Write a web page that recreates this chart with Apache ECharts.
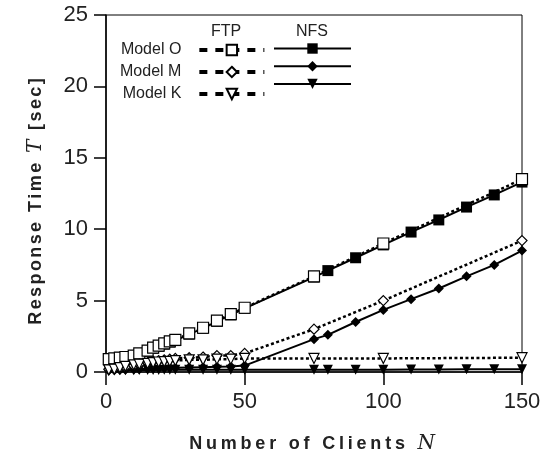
<!DOCTYPE html>
<html>
<head>
<meta charset="utf-8">
<script src="https://cdn.jsdelivr.net/npm/echarts@6/dist/echarts.min.js"></script>
<style>
  html, body { margin: 0; padding: 0; background: #fff; }
  #chart { width: 552px; height: 456px; }
</style>
</head>
<body>
<div id="chart"></div>
<script>
// Client counts measured for each protocol
const lowClients = [1, 3, 5, 7, 10, 12, 15, 17, 19, 21, 23, 25, 30, 35, 40, 45, 50];
const ftpClients = lowClients.concat([75, 100, 150]);
const nfsClients = lowClients.concat([75, 80, 90, 100, 110, 120, 130, 140, 150]);

// Response time [sec], FTP
const ftpModelO = [0.9, 0.95, 1.0, 1.05, 1.15, 1.3, 1.5, 1.7, 1.85, 2.0, 2.15, 2.25, 2.7, 3.1, 3.6, 4.05, 4.5, 6.7, 9.0, 13.5];
const ftpModelM = [0.2, 0.25, 0.3, 0.35, 0.45, 0.55, 0.65, 0.75, 0.8, 0.85, 0.9, 0.95, 1.0, 1.05, 1.15, 1.15, 1.3, 3.0, 5.0, 9.2];
const ftpModelK = [0.15, 0.2, 0.3, 0.4, 0.5, 0.55, 0.6, 0.65, 0.7, 0.72, 0.75, 0.8, 0.85, 0.85, 0.9, 0.9, 0.95, 0.95, 0.95, 1.0];

// Response time [sec], NFS
const nfsModelO = [0.85, 0.9, 0.95, 1.0, 1.1, 1.25, 1.45, 1.65, 1.8, 1.95, 2.1, 2.2, 2.65, 3.05, 3.55, 4.0, 4.45, 6.65, 7.1, 8.0, 8.9, 9.8, 10.65, 11.55, 12.4, 13.3];
const nfsModelM = [0.1, 0.12, 0.14, 0.16, 0.18, 0.2, 0.22, 0.24, 0.26, 0.28, 0.3, 0.3, 0.32, 0.34, 0.36, 0.38, 0.45, 2.3, 2.6, 3.5, 4.35, 5.1, 5.85, 6.7, 7.5, 8.5];
const nfsModelK = [0.12, 0.12, 0.13, 0.13, 0.13, 0.14, 0.14, 0.14, 0.14, 0.15, 0.15, 0.15, 0.15, 0.15, 0.15, 0.15, 0.15, 0.15, 0.15, 0.16, 0.16, 0.17, 0.18, 0.19, 0.2, 0.2];

const xTicks = [0, 50, 100, 150];
const yTicks = [0, 5, 10, 15, 20, 25];

const SANS = '"Liberation Sans", Arial, Helvetica, sans-serif';
const SERIF = '"DejaVu Serif", "Liberation Serif", serif';
const INK = '#000';
const TEXT = '#222';

function pairs(xs, ys) { return xs.map((x, i) => [x, ys[i]]); }

// Wrap every character in a rich-text token so the title gets letter spacing.
function spaced(str) {
  return str.split('').map(c => '{s|' + c + '}').join('');
}
function titleStyle(gap, tail) {
  return {
    fontFamily: SANS, fontWeight: 'bold', fontSize: 18, color: TEXT,
    rich: {
      s: { fontFamily: SANS, fontWeight: 'bold', fontSize: 18, color: TEXT, padding: [0, gap, 0, 0] },
      i: { fontFamily: SERIF, fontStyle: 'italic', fontWeight: 'normal', fontSize: 20, color: TEXT, padding: [0, gap, 0, 0] },
      e: { fontFamily: SANS, fontWeight: 'bold', fontSize: 18, color: TEXT, padding: [0, tail, 0, 0] }
    }
  };
}

function nfsSeries(name, ys, symbol, size, rotate) {
  return {
    name, type: 'line', data: pairs(nfsClients, ys),
    symbol, symbolSize: size, symbolRotate: rotate || 0,
    lineStyle: { color: INK, width: 2, type: 'solid' },
    itemStyle: { color: INK, borderColor: INK, borderWidth: 0 },
    emphasis: { disabled: true }, animation: false
  };
}
function ftpSeries(name, ys, symbol, size, rotate) {
  return {
    name, type: 'line', data: pairs(ftpClients, ys),
    symbol, symbolSize: size, symbolRotate: rotate || 0,
    lineStyle: { color: INK, width: 2.5, type: [3, 2.5] },
    itemStyle: { color: '#fff', borderColor: INK, borderWidth: 1.2 },
    emphasis: { disabled: true }, animation: false
  };
}

const chart = echarts.init(document.getElementById('chart'), null, { renderer: 'canvas' });
chart.setOption({
  animation: false,
  grid: {
    left: 106, right: 30, top: 15, bottom: 84,
    outerBoundsMode: 'none',
    show: true, borderColor: INK, borderWidth: 1, backgroundColor: 'transparent'
  },
  xAxis: {
    type: 'value', min: xTicks[0], max: xTicks[xTicks.length - 1], interval: 50,
    name: spaced('Number of Clients ') + '{i|N}', nameLocation: 'middle', nameGap: 62,
    nameTextStyle: titleStyle(3.8, 3.8),
    axisLine: { lineStyle: { color: INK, width: 1.5 } },
    axisTick: { length: 13, lineStyle: { color: INK, width: 1.5 } },
    axisLabel: { fontFamily: SANS, fontSize: 22, color: TEXT, margin: 19 },
    splitLine: { show: false }
  },
  yAxis: {
    type: 'value', min: yTicks[0], max: yTicks[yTicks.length - 1], interval: 5,
    name: spaced('Response Time ') + '{i|T}' + spaced(' [sec') + '{e|]}', nameLocation: 'middle', nameGap: 60,
    nameTextStyle: titleStyle(2.4, 16),
    axisLine: { lineStyle: { color: INK, width: 1.5 } },
    axisTick: { length: 12, lineStyle: { color: INK, width: 1.5 } },
    axisLabel: { fontFamily: SANS, fontSize: 22, color: TEXT, margin: 18 },
    splitLine: { show: false }
  },
  legend: [
    {
      orient: 'vertical', left: 115, top: 37, align: 'right',
      itemWidth: 65, itemHeight: 13, itemGap: 6, selectedMode: false,
      formatter: n => n.replace('FTP ', ''),
      textStyle: { fontFamily: SANS, fontSize: 16, color: TEXT, padding: [0, 13, 0, 0] },
      data: [
        { name: 'FTP Model O', lineStyle: { type: [8, 8], width: 4 } },
        { name: 'FTP Model M', lineStyle: { type: [8, 8], width: 4 } },
        { name: 'FTP Model K', lineStyle: { type: [8, 8], width: 4 } }
      ]
    },
    {
      orient: 'vertical', left: 268, top: 37, align: 'left',
      itemWidth: 77, itemHeight: 13, itemGap: 6, selectedMode: false,
      formatter: () => '',
      textStyle: { fontFamily: SANS, fontSize: 16, color: TEXT },
      data: ['NFS Model O', 'NFS Model M', 'NFS Model K']
    }
  ],
  graphic: [
    { type: 'text', left: 211, top: 24, style: { text: 'FTP', font: '16px ' + SANS, fill: TEXT } },
    { type: 'text', left: 296, top: 24, style: { text: 'NFS', font: '16px ' + SANS, fill: TEXT } }
  ],
  series: [
    nfsSeries('NFS Model O', nfsModelO, 'rect', 11),
    nfsSeries('NFS Model M', nfsModelM, 'diamond', 10),
    nfsSeries('NFS Model K', nfsModelK, 'triangle', 10, 180),
    ftpSeries('FTP Model O', ftpModelO, 'rect', 11),
    ftpSeries('FTP Model M', ftpModelM, 'diamond', 10),
    ftpSeries('FTP Model K', ftpModelK, 'triangle', 10, 180)
  ]
});
</script>
</body>
</html>
